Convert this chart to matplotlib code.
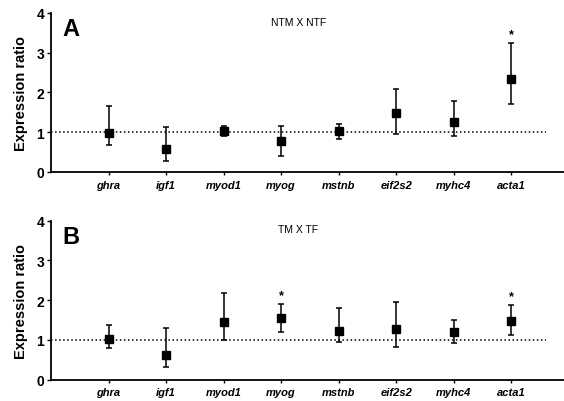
import matplotlib
matplotlib.use("Agg")
import matplotlib.pyplot as plt
import numpy as np

plt.rcParams['font.family'] = ['Liberation Sans', 'DejaVu Sans']

genes = ['ghra', 'igf1', 'myod1', 'myog', 'mstnb', 'eif2s2', 'myhc4', 'acta1']

# panel A: NTM X NTF
a_mean = [0.99, 0.58, 1.04, 0.78, 1.02, 1.48, 1.27, 2.33]
a_upper = [1.66, 1.14, 1.16, 1.16, 1.21, 2.09, 1.79, 3.25]
a_lower = [0.68, 0.28, 0.91, 0.41, 0.83, 0.96, 0.91, 1.71]
a_star = [7]

# panel B: TM X TF
b_mean = [1.02, 0.63, 1.45, 1.54, 1.23, 1.27, 1.20, 1.48]
b_upper = [1.38, 1.30, 2.19, 1.90, 1.80, 1.95, 1.49, 1.89]
b_lower = [0.79, 0.32, 1.01, 1.19, 0.95, 0.83, 0.92, 1.13]
b_star = [3, 7]

fig = plt.figure(figsize=(5.64, 4.02), dpi=100)
ax_a = fig.add_axes([0.0904, 0.5697, 0.918, 0.3955])
ax_b = fig.add_axes([0.0904, 0.0530, 0.918, 0.3955])


def panel(ax, mean, upper, lower, stars, letter, title):
    x = np.arange(1, len(genes) + 1)
    mean = np.array(mean)
    yerr = [mean - np.array(lower), np.array(upper) - mean]
    ax.plot([0, 8.6], [1, 1], ls=':', color='black', lw=1.1, zorder=1)
    ax.errorbar(x, mean, yerr=yerr, fmt='s', color='black', ms=6,
                elinewidth=1.1, capsize=2.5, capthick=1.1, zorder=3)
    for i in stars:
        ax.text(x[i], upper[i] + 0.22, '*', ha='center', va='center',
                fontsize=9, fontweight='bold')
    ax.set_xlim(0, 9)
    ax.set_ylim(0, 4)
    ax.set_xticks(x)
    ax.set_xticklabels(genes, fontstyle='italic', fontweight='bold', fontsize=8)
    ax.set_yticks([0, 1, 2, 3, 4])
    ax.set_yticklabels(['0', '1', '2', '3', '4'], fontweight='bold', fontsize=10)
    ax.tick_params(axis='x', length=2.5, width=1, pad=3)
    ax.tick_params(axis='y', length=3, width=1, pad=2)
    ax.spines['top'].set_visible(False)
    ax.spines['right'].set_visible(False)
    ax.spines['left'].set_linewidth(1.3)
    ax.spines['bottom'].set_linewidth(1.3)
    ax.set_ylabel('Expression ratio', fontweight='bold', fontsize=10.5, labelpad=6)
    ax.text(0.35, 3.6, letter, fontsize=17, fontweight='bold', ha='center', va='center')
    ax.text(4.3, 3.78, title, fontsize=7.5, ha='center', va='center')


panel(ax_a, a_mean, a_upper, a_lower, a_star, 'A', 'NTM X NTF')
panel(ax_b, b_mean, b_upper, b_lower, b_star, 'B', 'TM X TF')

fig.savefig('out.png', dpi=100)
